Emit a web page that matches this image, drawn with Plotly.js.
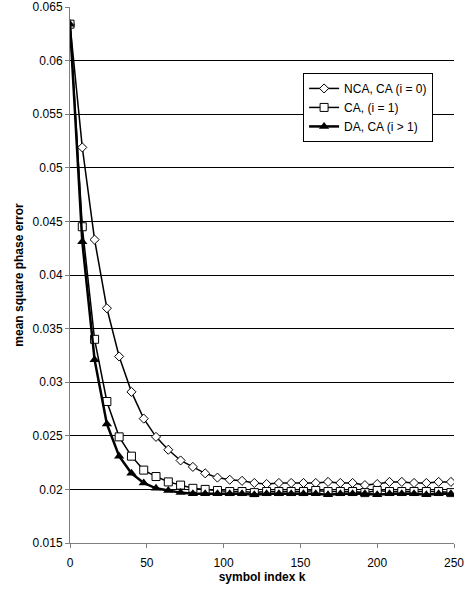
<!DOCTYPE html>
<html>
<head>
<meta charset="utf-8">
<script src="https://cdn.plot.ly/plotly-3.0.1.min.js"></script>
<style>html,body{margin:0;padding:0;background:#fff;}#chart{width:465px;height:597px;}</style>
</head>
<body>
<div id="chart"></div>
<script>
const symbolIndex = [0,8,16,24,32,40,48,56,64,72,80,88,96,104,112,120,128,136,144,152,160,168,176,184,192,200,208,216,224,232,240,248];
const ncaCA = [0.0634,0.0519,0.0433,0.0369,0.0324,0.0291,0.0266,0.0249,0.0237,0.0227,0.0221,0.0215,0.0211,0.0209,0.0208,0.0206,0.0205,0.0206,0.0206,0.0206,0.0206,0.0207,0.0206,0.0206,0.0204,0.0205,0.0207,0.0207,0.0206,0.0206,0.0207,0.0207];
const caI1 = [0.0634,0.0445,0.0340,0.0282,0.0249,0.0231,0.0218,0.0212,0.0207,0.0204,0.0201,0.0200,0.0199,0.0198,0.0198,0.0197,0.0198,0.0198,0.0198,0.0198,0.0199,0.0198,0.0198,0.0198,0.0197,0.0199,0.0198,0.0198,0.0198,0.0198,0.0198,0.0197];
const daCA = [0.0634,0.0431,0.0321,0.0261,0.0231,0.0215,0.0206,0.0201,0.0199,0.0197,0.0196,0.0196,0.0196,0.0196,0.0196,0.0195,0.0196,0.0196,0.0196,0.0196,0.0196,0.0195,0.0196,0.0196,0.0196,0.0195,0.0196,0.0196,0.0196,0.0195,0.0196,0.0196];
const seriesNames = ['NCA, CA (i = 0)', 'CA, (i = 1)', 'DA, CA (i > 1)'];
const xTitle = 'symbol index k';
const yTitle = 'mean square phase error';

const FONT = 'Liberation Sans, Arial, sans-serif';
const traces = [
  {x: symbolIndex, y: ncaCA, name: seriesNames[0], mode: 'lines+markers',
   line: {color: '#000', width: 1.5},
   marker: {symbol: 'diamond', size: 7, color: '#fff', line: {color: '#000', width: 1}}},
  {x: symbolIndex, y: caI1, name: seriesNames[1], mode: 'lines+markers',
   line: {color: '#000', width: 1.5},
   marker: {symbol: 'square', size: 8, color: '#fff', line: {color: '#000', width: 1}}},
  {x: symbolIndex, y: daCA, name: seriesNames[2], mode: 'lines+markers',
   line: {color: '#000', width: 2.5},
   marker: {symbol: 'triangle-up', size: 9, color: '#000', line: {color: '#000', width: 0}}}
];
const layout = {
  width: 465, height: 597,
  margin: {l: 70, r: 11, t: 7, b: 54, pad: 0},
  paper_bgcolor: '#fff', plot_bgcolor: '#fff',
  font: {family: FONT, size: 12, color: '#000'},
  showlegend: true,
  legend: {x: 0.607, y: 0.877, xanchor: 'left', yanchor: 'top',
    bgcolor: '#fff', bordercolor: '#000', borderwidth: 1,
    font: {family: FONT, size: 12, color: '#000'}, itemwidth: 30, tracegroupgap: 0},
  xaxis: {range: [0, 250], dtick: 50, tick0: 0, showgrid: false, zeroline: false,
    showline: true, linecolor: '#808080', linewidth: 1,
    ticks: 'outside', ticklen: 4, tickcolor: '#808080', ticklabelstandoff: 5,
    tickfont: {family: FONT, size: 12, color: '#000'},
    title: {text: xTitle, font: {family: FONT, size: 12, color: '#000', weight: 'bold'}, standoff: 3},
    automargin: false},
  yaxis: {range: [0.015, 0.065], dtick: 0.005, tick0: 0.015, showgrid: true, gridcolor: '#000', gridwidth: 1,
    zeroline: false, showline: true, linecolor: '#808080', linewidth: 1,
    ticks: 'outside', ticklen: 4, tickcolor: '#808080',
    tickfont: {family: FONT, size: 12, color: '#000'},
    title: {text: yTitle, font: {family: FONT, size: 12, color: '#000', weight: 'bold'}, standoff: 6},
    automargin: false}
};
Plotly.newPlot('chart', traces, layout, {displayModeBar: false, staticPlot: true});
</script>
</body>
</html>
